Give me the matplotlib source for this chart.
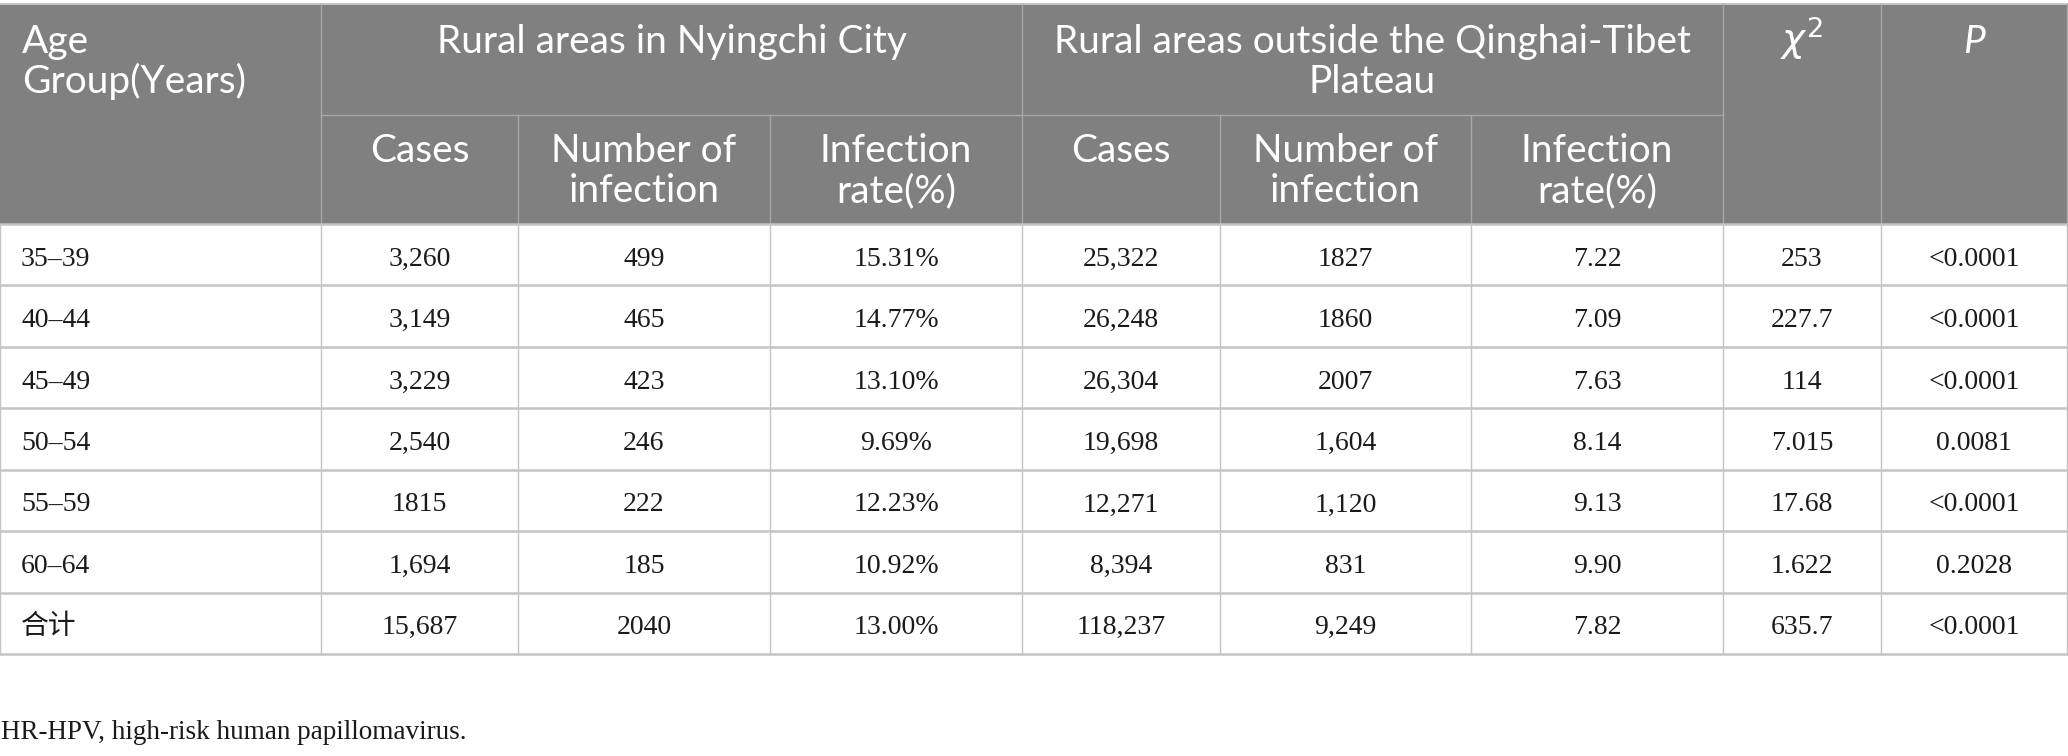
import matplotlib
matplotlib.use("Agg")
import matplotlib.pyplot as plt
from matplotlib.patches import Rectangle

# ---------------- data ----------------
age_groups = ['35–39', '40–44', '45–49', '50–54', '55–59', '60–64', '合计']
ny_cases = ['3,260', '3,149', '3,229', '2,540', '1815', '1,694', '15,687']
ny_infections = ['499', '465', '423', '246', '222', '185', '2040']
ny_rate = ['15.31%', '14.77%', '13.10%', '9.69%', '12.23%', '10.92%', '13.00%']
out_cases = ['25,322', '26,248', '26,304', '19,698', '12,271', '8,394', '118,237']
out_infections = ['1827', '1860', '2007', '1,604', '1,120', '831', '9,249']
out_rate = ['7.22', '7.09', '7.63', '8.14', '9.13', '9.90', '7.82']
chi2 = ['253', '227.7', '114', '7.015', '17.68', '1.622', '635.7']
p_values = ['<0.0001', '<0.0001', '<0.0001', '0.0081', '<0.0001', '0.2028', '<0.0001']

group_headers = ['Rural areas in Nyingchi City',
                 'Rural areas outside the Qinghai-Tibet\nPlateau']
sub_headers = ['Cases', 'Number of\ninfection', 'Infection\nrate(%)']
first_header = 'Age\nGroup(Years)'
footnote = 'HR-HPV, high-risk human papillomavirus.'

# ---------------- layout (pixels) ----------------
W, H = 2068, 756
col_edges = [0, 321, 518, 770, 1022, 1220, 1471, 1723, 1881, 2067]
y_top = 4
y_mid = 115
y_head = 224
row_h = (654 - 224) / 7.0
line1, line2 = 53, 93      # baselines in the first header row
sub1, sub2 = 162, 202      # baselines in the second header row

HEAD_BG = '#808080'
HEAD_LINE = '#a8a8a8'
BODY_LINE = '#c4c4c4'

fig = plt.figure(figsize=(W / 100, H / 100), dpi=100)
ax = fig.add_axes([0, 0, 1, 1])
ax.set_xlim(0, W)
ax.set_ylim(H, 0)
ax.axis('off')

# header background
ax.add_patch(Rectangle((col_edges[0], y_top), col_edges[-1] - col_edges[0],
                       y_head - y_top, facecolor=HEAD_BG, edgecolor='none', zorder=1))

# header lines
ax.plot([col_edges[0], col_edges[-1]], [y_top, y_top], color=BODY_LINE, lw=1.4, zorder=2)
ax.plot([col_edges[1], col_edges[7]], [y_mid, y_mid], color=HEAD_LINE, lw=1.0, zorder=2)
for x in [col_edges[1], col_edges[4], col_edges[7], col_edges[8]]:
    ax.plot([x, x], [y_top, y_head], color=HEAD_LINE, lw=1.0, zorder=2)
for x in [col_edges[2], col_edges[3], col_edges[5], col_edges[6]]:
    ax.plot([x, x], [y_mid, y_head], color=HEAD_LINE, lw=1.0, zorder=2)
ax.plot([col_edges[-1], col_edges[-1]], [y_top, y_head], color=HEAD_LINE, lw=1.0, zorder=2)

# body lines
n_rows = len(age_groups)
y_bottom = y_head + n_rows * row_h
for i in range(n_rows + 1):
    y = y_head + i * row_h
    ax.plot([col_edges[0], col_edges[-1]], [y, y], color=BODY_LINE, lw=1.8, zorder=2)
for x in col_edges:
    ax.plot([x, x], [y_head, y_bottom], color=BODY_LINE, lw=1.0, zorder=2)

# header text
HFONT = 'Lato'
HSIZE = 28
hkw = dict(color='white', fontsize=HSIZE, family=HFONT, zorder=3)


def htext(x, lines, baselines, ha='center'):
    for ln, yb in zip(lines, baselines):
        ax.text(x, yb, ln, ha=ha, va='baseline', **hkw)


htext(22, first_header.split('\n'), [line1, line2], ha='left')
htext((col_edges[1] + col_edges[4]) / 2, group_headers[0].split('\n'), [line1, line2])
htext((col_edges[4] + col_edges[7]) / 2, group_headers[1].split('\n'), [line1, line2])
ax.text((col_edges[7] + col_edges[8]) / 2, 52, r'$\chi^{2}$', ha='center', va='baseline',
        color='white', fontsize=HSIZE, zorder=3)
ax.text((col_edges[8] + col_edges[9]) / 2, line1, 'P', ha='center', va='baseline',
        color='white', fontsize=HSIZE, family=HFONT, style='italic', zorder=3)
for g in range(2):
    for j, lab in enumerate(sub_headers):
        c = 1 + g * 3 + j
        xc = (col_edges[c] + col_edges[c + 1]) / 2
        lines = lab.split('\n')
        if len(lines) == 1:
            htext(xc, lines, [sub1])
        else:
            htext(xc, lines, [sub1, sub2])

# body text
BFONT = ['Liberation Serif', 'Noto Sans CJK SC']
BSIZE = 20
bkw = dict(color='#1a1a1a', fontsize=BSIZE, family=BFONT, zorder=3)
columns = [ny_cases, ny_infections, ny_rate, out_cases, out_infections, out_rate, chi2, p_values]
for i in range(n_rows):
    yb = y_head + i * row_h + row_h / 2 + 11
    ax.text(21, yb, age_groups[i], ha='left', va='baseline', **bkw)
    for c, col in enumerate(columns, start=1):
        xc = (col_edges[c] + col_edges[c + 1]) / 2
        ax.text(xc, yb, col[i], ha='center', va='baseline', **bkw)

# footnote
ax.text(1, 739, footnote, ha='left', va='baseline', color='#1a1a1a',
        fontsize=19.5, family='Liberation Serif', zorder=3)

fig.savefig('out.png', dpi=100, facecolor='white')
